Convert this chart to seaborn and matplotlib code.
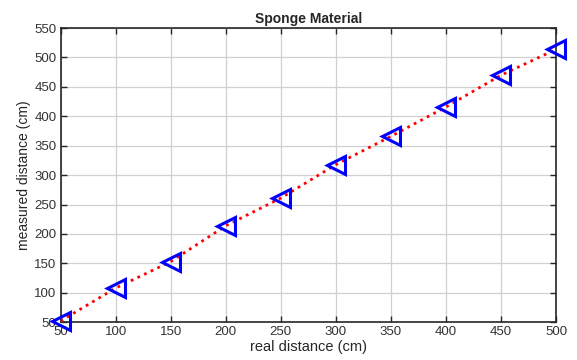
import pandas as pd
import seaborn as sns
import matplotlib.pyplot as plt

# values
real_distance = [50, 100, 150, 200, 250, 300, 350, 400, 450, 500]
measured_distance = [52, 108, 153, 214, 261, 318, 366, 416, 470, 514]
x_ticks = [50, 100, 150, 200, 250, 300, 350, 400, 450, 500]
y_ticks = [50, 100, 150, 200, 250, 300, 350, 400, 450, 500, 550]

df = pd.DataFrame({"real": real_distance, "measured": measured_distance})

sns.set_style("whitegrid")
plt.rcParams["font.family"] = ["Liberation Sans", "DejaVu Sans"]

fig = plt.figure(figsize=(5.77, 3.6), dpi=100)
ax = fig.add_axes([0.105, 0.105, 0.859, 0.817])

sns.lineplot(data=df, x="real", y="measured", ax=ax, color="red",
             linestyle=":", linewidth=2, zorder=3)
ax.plot(df["real"], df["measured"], linestyle="none", marker="<",
        markersize=13, markerfacecolor="none", markeredgecolor="blue",
        markeredgewidth=2.2, zorder=4, clip_on=False)

ax.set_xlim(50, 500)
ax.set_ylim(50, 550)
ax.set_xticks(x_ticks)
ax.set_yticks(y_ticks)
ax.grid(True, color="#d0d0d0", linewidth=0.9)
for s in ax.spines.values():
    s.set_color("#262626")
    s.set_linewidth(1.2)
ax.tick_params(direction="in", length=4, width=1, colors="#262626",
               labelsize=9.5, top=True, right=True, bottom=True, left=True,
               labelcolor="#333333", pad=3)

ax.set_xlabel("real distance (cm)", fontsize=10.5, color="#262626", labelpad=1)
ax.set_ylabel("measured distance (cm)", fontsize=10, color="#262626", labelpad=2)
ax.set_title("Sponge Material", fontsize=10, fontweight="bold", pad=4)

fig.savefig("out.png", dpi=100)
